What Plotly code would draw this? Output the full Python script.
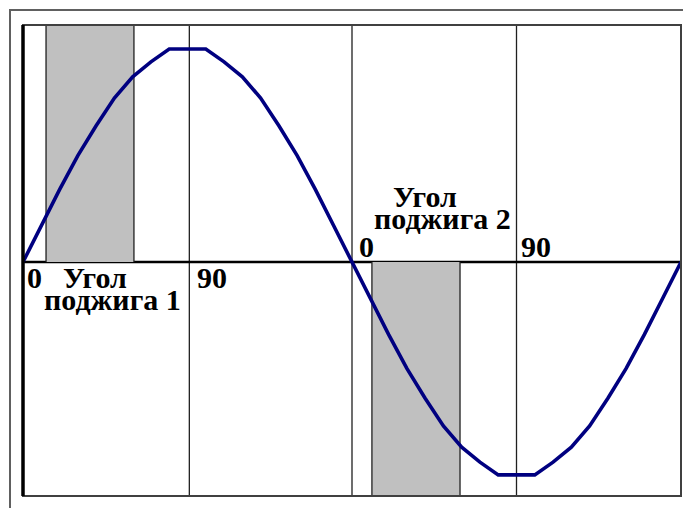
import plotly.graph_objects as go

# Data: phase angle (degrees) and voltage (normalized)
angle_deg = [0, 10, 20, 30, 40, 50, 60, 70, 80, 90, 100, 110, 120, 130, 140, 150, 160, 170, 180,
             190, 200, 210, 220, 230, 240, 250, 260, 270, 280, 290, 300, 310, 320, 330, 340, 350, 360]
voltage = [0.0, 0.17, 0.34, 0.50, 0.64, 0.77, 0.87, 0.94, 1.0, 1.0, 1.0, 0.94, 0.87, 0.77, 0.64, 0.50, 0.34, 0.17, 0.0,
           -0.17, -0.34, -0.50, -0.64, -0.77, -0.87, -0.94, -1.0, -1.0, -1.0, -0.94, -0.87, -0.77, -0.64, -0.50, -0.34, -0.17, 0.0]

grid_x = [91, 180, 270]
shade1 = [12.6, 60.7]   # firing angle 1 window (positive half)
shade2 = [190.9, 239.1]  # firing angle 2 window (negative half)
tick_labels = ["0", "90"]
label_1 = ["Угол", "поджига 1"]
label_2 = ["Угол", "поджига 2"]

Y_TOP, Y_BOT = 1.113, -1.099
FONT = "Liberation Serif"

fig = go.Figure()
fig.add_trace(go.Scatter(x=angle_deg, y=voltage, mode="lines",
                         line=dict(color="#000080", width=3.6), hoverinfo="skip"))

shapes = []
shapes.append(dict(type="rect", xref="x", yref="y", x0=shade1[0], x1=shade1[1], y0=0, y1=Y_TOP,
                   fillcolor="#c0c0c0", line=dict(width=0), layer="below"))
shapes.append(dict(type="rect", xref="x", yref="y", x0=shade2[0], x1=shade2[1], y0=Y_BOT, y1=0,
                   fillcolor="#c0c0c0", line=dict(width=0), layer="below"))
for xv in shade1:
    shapes.append(dict(type="line", xref="x", yref="y", x0=xv, x1=xv, y0=0, y1=Y_TOP,
                       line=dict(color="#202020", width=1.3), layer="below"))
for xv in shade2:
    shapes.append(dict(type="line", xref="x", yref="y", x0=xv, x1=xv, y0=Y_BOT, y1=0,
                       line=dict(color="#202020", width=1.3), layer="below"))
for xv in grid_x:
    shapes.append(dict(type="line", xref="x", yref="paper", x0=xv, x1=xv, y0=0, y1=1,
                       line=dict(color="#202020", width=1.3), layer="below"))
shapes.append(dict(type="line", xref="paper", yref="y", x0=0, x1=1, y0=0, y1=0,
                   line=dict(color="black", width=2.5), layer="below"))
shapes.append(dict(type="rect", xref="paper", yref="paper", x0=0, x1=1, y0=0, y1=1,
                   line=dict(color="#404040", width=2)))
shapes.append(dict(type="line", xref="paper", yref="paper", x0=0, x1=0, y0=0, y1=1,
                   line=dict(color="black", width=3.5)))

W, H = 683, 508
L, R, T, B = 23, 2, 25, 12
pw, ph = W - L - R, H - T - B
def px(xp): return (xp - L) / pw
def py(yp): return (H - B - yp) / ph
shapes.append(dict(type="line", xref="paper", yref="paper", x0=px(9), x1=px(690), y0=py(10), y1=py(10),
                   line=dict(color="#606060", width=2)))
shapes.append(dict(type="line", xref="paper", yref="paper", x0=px(10), x1=px(10), y0=py(9), y1=py(520),
                   line=dict(color="#606060", width=2)))

fnt = dict(family=FONT, size=30, color="black")
def ann(text, xc, yc):
    return dict(x=px(xc), y=py(yc), xref="paper", yref="paper", text="<b>" + text + "</b>",
                xanchor="center", yanchor="middle",
                showarrow=False, font=fnt, borderpad=0)

annotations = [
    ann(tick_labels[0], 34, 277),
    ann(tick_labels[1], 212, 277),
    ann(tick_labels[0], 366, 246),
    ann(tick_labels[1], 536, 246),
    ann(label_1[0], 95, 277),
    ann(label_1[1], 112, 299),
    ann(label_2[0], 425, 196),
    ann(label_2[1], 442, 218),
]

fig.update_layout(
    width=W, height=H,
    margin=dict(l=L, r=R, t=T, b=B, pad=0),
    paper_bgcolor="white", plot_bgcolor="white",
    showlegend=False,
    xaxis=dict(range=[0, 360], visible=False, fixedrange=True),
    yaxis=dict(range=[Y_BOT, Y_TOP], visible=False, fixedrange=True),
    shapes=shapes, annotations=annotations,
)
fig.write_html("out.html", config={"displayModeBar": False},
               post_script="document.body.style.margin='0';document.body.style.overflow='hidden';")
